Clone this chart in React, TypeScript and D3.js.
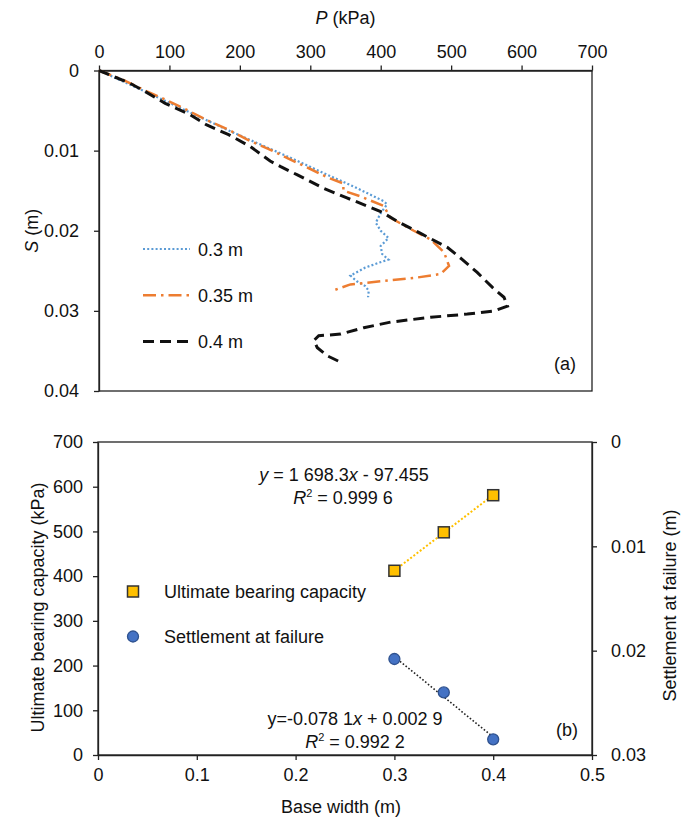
import React, { useEffect, useRef } from 'react';
import * as d3 from 'd3';

// (a) load-settlement curves, P in kPa, S in m
const p03 = [0, 87, 182, 272, 329, 362, 404, 409, 400, 393, 400, 411, 400, 402, 411, 397, 378, 357, 366, 378, 383, 382];
const s03 = [0, 0.0035, 0.0074, 0.0109, 0.0132, 0.0145, 0.0163, 0.0167, 0.0178, 0.019, 0.02, 0.0209, 0.0219, 0.0229, 0.0236, 0.024, 0.0246, 0.0256, 0.0263, 0.0269, 0.0275, 0.0283];

const p035 = [0, 35, 63, 91, 122, 151, 184, 210, 241, 269, 298, 326, 347, 347, 371, 404, 414, 447, 471, 490, 497, 485, 447, 400, 357, 331];
const s035 = [0, 0.0012, 0.0024, 0.0035, 0.0048, 0.0061, 0.0074, 0.0086, 0.0098, 0.011, 0.0122, 0.0134, 0.0141, 0.015, 0.0157, 0.0169, 0.0184, 0.02, 0.0211, 0.0227, 0.0244, 0.0254, 0.0259, 0.0263, 0.0267, 0.0275];

const p04 = [0, 44, 65, 94, 129, 153, 184, 215, 243, 258, 281, 319, 352, 400, 423, 456, 495, 516, 537, 559, 575, 580, 561, 523, 471, 414, 376, 343, 312, 305, 310, 324, 343];
const s04 = [0, 0.0016, 0.0026, 0.0041, 0.0055, 0.0068, 0.008, 0.0095, 0.0113, 0.012, 0.013, 0.0147, 0.0159, 0.0176, 0.0188, 0.0203, 0.0221, 0.0236, 0.0252, 0.0271, 0.0283, 0.0294, 0.03, 0.0304, 0.0308, 0.0314, 0.0321, 0.0329, 0.0331, 0.0337, 0.0346, 0.0356, 0.0364];

const seriesNames = ['0.3 m', '0.35 m', '0.4 m'];
const pTicks = [0, 100, 200, 300, 400, 500, 600, 700];
const sTicks = [0, 0.01, 0.02, 0.03, 0.04];

// (b) vs base width
const baseWidth = [0.3, 0.35, 0.4];
const ultimateCapacity = [412, 498, 581];
const failureSettlement = [0.0208, 0.024, 0.0285];
const widthTicks = [0, 0.1, 0.2, 0.3, 0.4, 0.5];
const capTicks = [0, 100, 200, 300, 400, 500, 600, 700];
const setTicks = [0, 0.01, 0.02, 0.03];

const FONT = '"Liberation Sans", Arial, sans-serif';

function linFit(xs: number[], ys: number[]) {
  const mx = d3.mean(xs)!;
  const my = d3.mean(ys)!;
  const b = d3.sum(xs.map((x, i) => (x - mx) * (ys[i] - my))) / d3.sum(xs.map(x => (x - mx) ** 2));
  return (x: number) => my + b * (x - mx);
}

export default function App() {
  const svgRef = useRef<SVGSVGElement>(null);

  useEffect(() => {
    if (!svgRef.current) return;
    const svg = d3.select(svgRef.current);
    svg.selectAll('*').remove();
    svg.style('font-family', FONT);

    const styleAxis = (g: any) => {
      g.selectAll('path.domain').attr('stroke', '#222').attr('stroke-width', 1.3);
      g.selectAll('.tick line').attr('stroke', '#222').attr('stroke-width', 1.3);
      g.selectAll('.tick text').attr('fill', '#111').style('font-size', '18px').style('font-family', FONT);
    };

    // ---------- (a) ----------
    const a = { left: 99, top: 70.5, right: 592, bottom: 391 };
    const xP = d3.scaleLinear().domain([0, 700]).range([a.left, a.right]);
    const yS = d3.scaleLinear().domain([0, 0.04]).range([a.top, a.bottom]);

    svg.append('rect')
      .attr('x', a.left).attr('y', a.top)
      .attr('width', a.right - a.left).attr('height', a.bottom - a.top)
      .attr('fill', 'none').attr('stroke', '#222').attr('stroke-width', 1.3);

    svg.append('g')
      .attr('transform', `translate(0,${a.top})`)
      .call(d3.axisTop(xP).tickValues(pTicks).tickSize(5).tickSizeOuter(0).tickPadding(8).tickFormat(d3.format('d')))
      .call(styleAxis);

    svg.append('g')
      .attr('transform', `translate(${a.left},0)`)
      .call(d3.axisLeft(yS).tickValues(sTicks).tickSize(5).tickSizeOuter(0).tickPadding(15).tickFormat((d: any) => (d === 0 ? '0' : d3.format('.2f')(d))))
      .call(styleAxis);

    const titleP = svg.append('text')
      .attr('x', (a.left + a.right) / 2).attr('y', 24)
      .attr('text-anchor', 'middle').style('font-size', '18px').attr('fill', '#111');
    titleP.append('tspan').style('font-style', 'italic').text('P');
    titleP.append('tspan').text(' (kPa)');

    const titleS = svg.append('text')
      .attr('transform', `translate(38,${(a.top + a.bottom) / 2}) rotate(-90)`)
      .attr('text-anchor', 'middle').style('font-size', '18px').attr('fill', '#111');
    titleS.append('tspan').style('font-style', 'italic').text('S');
    titleS.append('tspan').text(' (m)');

    const curves = [
      { p: p03, s: s03, color: '#5B9BD5', dash: '2,2.2', width: 2.2 },
      { p: p035, s: s035, color: '#ED7D31', dash: '13,5,2.5,5', width: 2.5 },
      { p: p04, s: s04, color: '#111', dash: '11,6', width: 3 },
    ];
    const line = d3.line<[number, number]>().x(d => xP(d[0])).y(d => yS(d[1]));

    curves.forEach((c, i) => {
      const pts: [number, number][] = c.p.map((v, k) => [v, c.s[k]]);
      svg.append('path')
        .attr('d', line(pts))
        .attr('fill', 'none').attr('stroke', c.color)
        .attr('stroke-width', c.width).attr('stroke-dasharray', c.dash);

      const ly = 249 + i * 46.3;
      svg.append('line')
        .attr('x1', 143).attr('x2', 190).attr('y1', ly).attr('y2', ly)
        .attr('stroke', c.color).attr('stroke-width', c.width).attr('stroke-dasharray', c.dash);
      svg.append('text')
        .attr('x', 198).attr('y', ly + 6.5)
        .style('font-size', '18px').attr('fill', '#111')
        .text(seriesNames[i]);
    });

    svg.append('text')
      .attr('x', 565).attr('y', 369.5).attr('text-anchor', 'middle')
      .style('font-size', '18px').attr('fill', '#111').text('(a)');

    // ---------- (b) ----------
    const b = { left: 98, top: 442, right: 592, bottom: 755 };
    const xW = d3.scaleLinear().domain([0, 0.5]).range([b.left, b.right]);
    const yC = d3.scaleLinear().domain([0, 700]).range([b.bottom, b.top]);
    const yF = d3.scaleLinear().domain([0, 0.03]).range([b.top, b.bottom]);

    svg.append('rect')
      .attr('x', b.left).attr('y', b.top)
      .attr('width', b.right - b.left).attr('height', b.bottom - b.top)
      .attr('fill', 'none').attr('stroke', '#222').attr('stroke-width', 1.3);

    svg.append('g')
      .attr('transform', `translate(0,${b.bottom})`)
      .call(d3.axisBottom(xW).tickValues(widthTicks).tickSize(5).tickSizeOuter(0).tickPadding(8).tickFormat((d: any) => (d === 0 ? '0' : d3.format('.1f')(d))))
      .call(styleAxis);

    svg.append('g')
      .attr('transform', `translate(${b.left},0)`)
      .call(d3.axisLeft(yC).tickValues(capTicks).tickSize(5).tickSizeOuter(0).tickPadding(10).tickFormat(d3.format('d')))
      .call(styleAxis);

    svg.append('g')
      .attr('transform', `translate(${b.right},0)`)
      .call(d3.axisRight(yF).tickValues(setTicks).tickSize(5).tickSizeOuter(0).tickPadding(14).tickFormat((d: any) => (d === 0 ? '0' : d3.format('.2f')(d))))
      .call(styleAxis);

    svg.append('text')
      .attr('x', 341).attr('y', 813).attr('text-anchor', 'middle')
      .style('font-size', '18px').attr('fill', '#111').text('Base width (m)');

    svg.append('text')
      .attr('transform', `translate(44,${(b.top + b.bottom) / 2 + 9}) rotate(-90)`)
      .attr('text-anchor', 'middle').style('font-size', '18px').attr('fill', '#111')
      .text('Ultimate bearing capacity (kPa)');

    svg.append('text')
      .attr('transform', `translate(676,${(b.top + b.bottom) / 2 + 7}) rotate(-90)`)
      .attr('text-anchor', 'middle').style('font-size', '18px').attr('fill', '#111')
      .text('Settlement at failure (m)');

    // trendlines
    const capFit = linFit(baseWidth, ultimateCapacity);
    const setFit = linFit(baseWidth, failureSettlement);
    const x0 = baseWidth[0], x1 = baseWidth[baseWidth.length - 1];
    svg.append('line')
      .attr('x1', xW(x0)).attr('y1', yC(capFit(x0)))
      .attr('x2', xW(x1)).attr('y2', yC(capFit(x1)))
      .attr('stroke', '#FFC000').attr('stroke-width', 2).attr('stroke-dasharray', '2,2');
    svg.append('line')
      .attr('x1', xW(x0)).attr('y1', yF(setFit(x0)))
      .attr('x2', xW(x1)).attr('y2', yF(setFit(x1)))
      .attr('stroke', '#222').attr('stroke-width', 1.6).attr('stroke-dasharray', '1.6,2');

    const sq = 11;
    svg.selectAll('.cap')
      .data(baseWidth)
      .enter().append('rect')
      .attr('x', d => xW(d) - sq / 2)
      .attr('y', (d, i) => yC(ultimateCapacity[i]) - sq / 2)
      .attr('width', sq).attr('height', sq)
      .attr('fill', '#FFC000').attr('stroke', '#333').attr('stroke-width', 1.5);

    svg.selectAll('.set')
      .data(baseWidth)
      .enter().append('circle')
      .attr('cx', d => xW(d))
      .attr('cy', (d, i) => yF(failureSettlement[i]))
      .attr('r', 5.5)
      .attr('fill', '#4472C4').attr('stroke', '#2F528F').attr('stroke-width', 1.3);

    // legend (b)
    svg.append('rect')
      .attr('x', 133 - sq / 2).attr('y', 591.5 - sq / 2).attr('width', sq).attr('height', sq)
      .attr('fill', '#FFC000').attr('stroke', '#333').attr('stroke-width', 1.5);
    svg.append('text').attr('x', 164).attr('y', 598).style('font-size', '18px').attr('fill', '#111')
      .text('Ultimate bearing capacity');
    svg.append('circle')
      .attr('cx', 133).attr('cy', 636.5).attr('r', 5.5)
      .attr('fill', '#4472C4').attr('stroke', '#2F528F').attr('stroke-width', 1.3);
    svg.append('text').attr('x', 164).attr('y', 643).style('font-size', '18px').attr('fill', '#111')
      .text('Settlement at failure');

    // equations
    const eq = (x: number, y: number, parts: [string, boolean][]) => {
      const t = svg.append('text').attr('x', x).attr('y', y).attr('text-anchor', 'middle')
        .style('font-size', '18px').attr('fill', '#111');
      parts.forEach(([s, it]) => t.append('tspan').style('font-style', it ? 'italic' : 'normal').text(s));
      return t;
    };
    const r2 = (x: number, y: number, val: string) => {
      const t = svg.append('text').attr('x', x).attr('y', y).attr('text-anchor', 'middle')
        .style('font-size', '18px').attr('fill', '#111');
      t.append('tspan').style('font-style', 'italic').text('R');
      t.append('tspan').attr('dy', -7).style('font-size', '11px').text('2');
      t.append('tspan').attr('dy', 7).text(` = ${val}`);
    };

    eq(344, 481, [['y', true], [' = 1 698.3', false], ['x', true], [' - 97.455', false]]);
    r2(343, 504, '0.999 6');
    eq(355, 725, [['y=-0.078 1', false], ['x', true], [' + 0.002 9', false]]);
    r2(355, 748, '0.992 2');

    svg.append('text')
      .attr('x', 567).attr('y', 736).attr('text-anchor', 'middle')
      .style('font-size', '18px').attr('fill', '#111').text('(b)');
  }, []);

  return (
    <svg
      ref={svgRef}
      width={700}
      height={840}
      style={{ position: 'absolute', left: 0, top: 0, background: '#fff' }}
    />
  );
}
